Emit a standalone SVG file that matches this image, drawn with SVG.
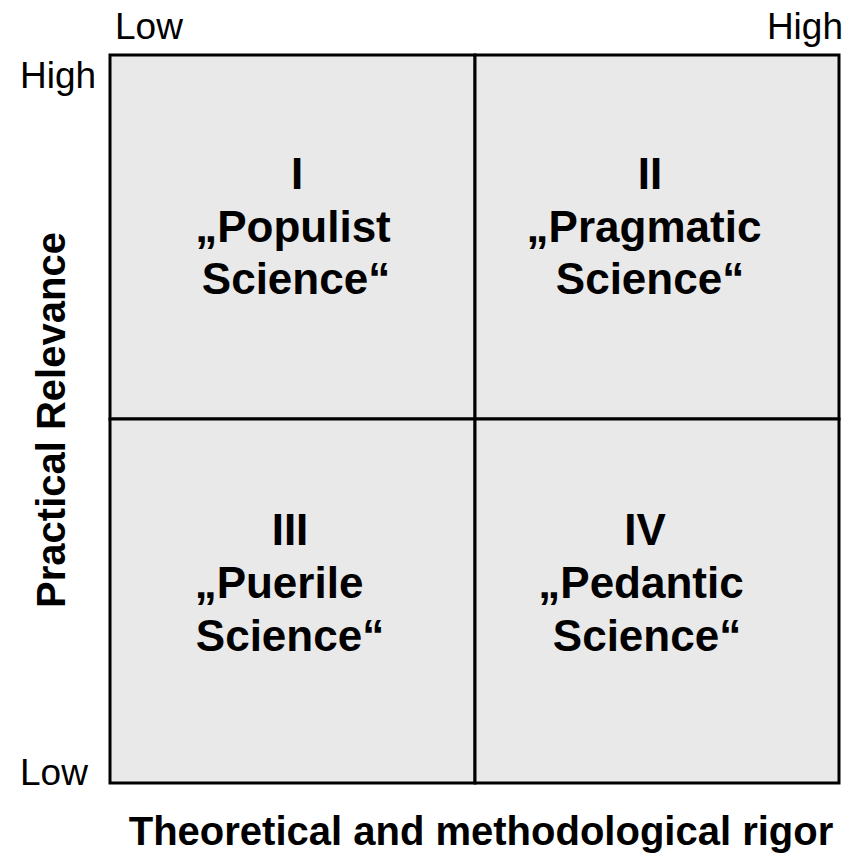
<svg xmlns="http://www.w3.org/2000/svg" width="851" height="853" viewBox="0 0 851 853">
<style>
.lbl{font-family:"Liberation Sans",Arial,sans-serif;font-size:37px;fill:#000}
.ttl{font-family:"Liberation Sans",Arial,sans-serif;font-size:40px;font-weight:bold;fill:#000}
.q{font-family:"Liberation Sans",Arial,sans-serif;font-size:44px;font-weight:bold;fill:#000;text-anchor:middle}
.cell{fill:#e9e9e9;stroke:#000;stroke-width:3}
</style>
<rect width="851" height="853" fill="#fff"/>
<g id="q1"><rect class="cell" x="110" y="55" width="365" height="364"/>
<text class="q"><tspan x="297" y="189">I</tspan><tspan x="293" y="242">„Populist</tspan><tspan x="296" y="294">Science“</tspan></text></g>
<g id="q2"><rect class="cell" x="475" y="55" width="364" height="364"/>
<text class="q"><tspan x="650" y="189">II</tspan><tspan x="644" y="242">„Pragmatic</tspan><tspan x="650" y="294">Science“</tspan></text></g>
<g id="q3"><rect class="cell" x="110" y="419" width="365" height="364"/>
<text class="q"><tspan x="290" y="545">III</tspan><tspan x="279" y="598">„Puerile</tspan><tspan x="290" y="651">Science“</tspan></text></g>
<g id="q4"><rect class="cell" x="475" y="419" width="364" height="364"/>
<text class="q"><tspan x="645" y="545">IV</tspan><tspan x="641" y="598">„Pedantic</tspan><tspan x="647" y="651">Science“</tspan></text></g>
<g id="connectors"></g>
<g id="labels">
<text class="lbl" x="115" y="39">Low</text>
<text class="lbl" x="843" y="39" text-anchor="end">High</text>
<text class="lbl" x="20" y="88">High</text>
<text class="lbl" x="20" y="785">Low</text>
<text class="ttl" x="481" y="845" text-anchor="middle">Theoretical and methodological rigor</text>
<text class="ttl" transform="translate(65,420) rotate(-90)" text-anchor="middle">Practical Relevance</text>
</g>
</svg>
